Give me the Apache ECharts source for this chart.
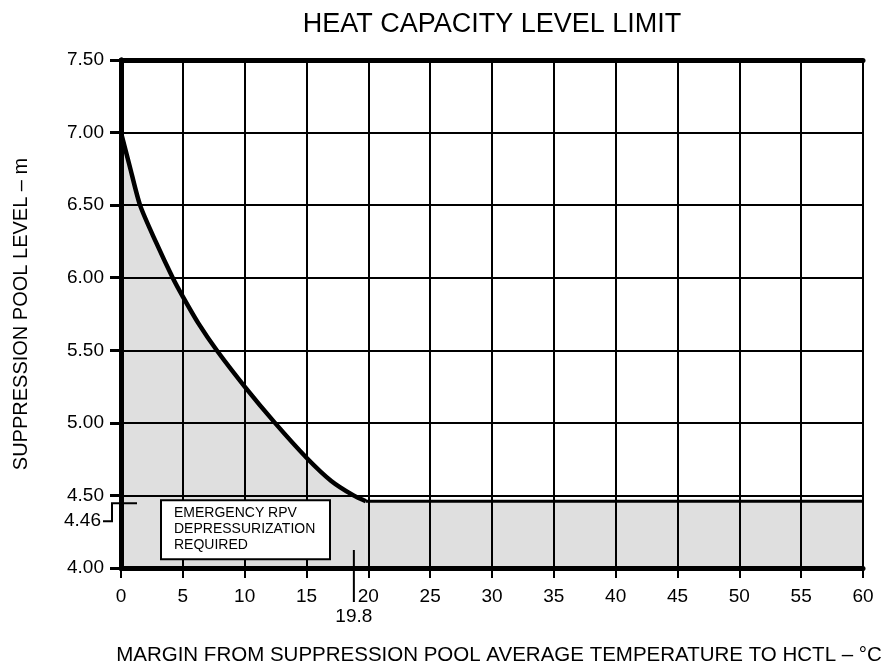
<!DOCTYPE html>
<html>
<head>
<meta charset="utf-8">
<script src="https://cdn.jsdelivr.net/npm/echarts@6/dist/echarts.min.js"></script>
<style>
  html, body { margin: 0; padding: 0; background: #fff; }
  #hctl { width: 886px; height: 671px; }
</style>
</head>
<body>
<div id="hctl"></div>
<script>
// curve: margin to HCTL (degC) vs suppression pool level (m)
const curveMargin = [0, 0.7, 1.54, 2.8, 4.18, 5, 6.3, 7.74, 10, 12.45, 15, 17, 18.8, 19.8];
const curveLevel = [7.00, 6.77, 6.50, 6.25, 6.00, 5.87, 5.68, 5.50, 5.25, 5.00, 4.76, 4.60, 4.50, 4.46];
// flat part of the limit
const flatMargin = [19.8, 60];
const flatLevel = [4.46, 4.46];
// annotations
const levelMark = 4.46;
const marginMark = 19.8;
const boxLines = ['EMERGENCY RPV', 'DEPRESSURIZATION', 'REQUIRED'];

const font = 'Liberation Sans, Arial, Helvetica, sans-serif';

function pairs(xs, ys) {
    return xs.map(function(x, i) { return [x, ys[i]]; });
}

let hctlChart = echarts.init(document.getElementById('hctl'));
let option = {
    animation: false,
    textStyle: { fontFamily: font },
    title: {
        text: 'HEAT CAPACITY LEVEL LIMIT',
        left: 487,
        textAlign: 'center',
        top: 6,
        textStyle: { fontFamily: font, fontSize: 27, fontWeight: 'normal', color: '#000' }
    },
    grid: { left: 121, right: 23, top: 60, bottom: 100 },

    // Horizontal axis
    xAxis: [{
        type: 'value',
        min: 0,
        max: 60,
        interval: 5,
        z: 3,
        name: 'MARGIN FROM SUPPRESSION POOL AVERAGE TEMPERATURE TO HCTL – °C',
        nameLocation: 'middle',
        nameGap: 77,
        nameTextStyle: { fontFamily: font, fontSize: 20.5, color: '#000', padding: [0, 0, 0, 14] },
        axisLine: { lineStyle: { color: '#000', width: 5 } },
        axisTick: { length: 10, lineStyle: { color: '#000', width: 2 } },
        axisLabel: { fontFamily: font, fontSize: 19, color: '#000', margin: 19 },
        splitLine: { lineStyle: { color: '#000', width: 2 } }
    }, {
        type: 'value',
        position: 'top',
        min: 0,
        max: 60,
        z: 6,
        axisLine: { show: true, lineStyle: { color: '#000', width: 5 } },
        axisTick: { show: false },
        axisLabel: { show: false },
        splitLine: { show: false }
    }],

    // Vertical axis
    yAxis: [{
        type: 'value',
        min: 4,
        max: 7.5,
        interval: 0.5,
        z: 3,
        name: 'SUPPRESSION POOL LEVEL – m',
        nameLocation: 'middle',
        nameGap: 90,
        nameTextStyle: { fontFamily: font, fontSize: 20, color: '#000' },
        axisLine: { show: true, lineStyle: { color: '#000', width: 5 } },
        axisTick: { show: true, length: 11, lineStyle: { color: '#000', width: 3 } },
        axisLabel: {
            fontFamily: font, fontSize: 19, color: '#000', margin: 17,
            formatter: function(v) { return v.toFixed(2); }
        },
        splitLine: { lineStyle: { color: '#000', width: 2 } }
    }, {
        type: 'value',
        position: 'right',
        min: 4,
        max: 7.5,
        z: 6,
        axisLine: { show: true, lineStyle: { color: '#000', width: 5 } },
        axisTick: { show: false },
        axisLabel: { show: false },
        splitLine: { show: false }
    }],

    series: [{
        // shaded region under the limit
        name: 'area-curve',
        type: 'line',
        z: 1,
        smooth: 0.25,
        symbol: 'none',
        lineStyle: { width: 0 },
        areaStyle: { color: '#dfdfdf', opacity: 1, origin: 'start' },
        data: pairs(curveMargin, curveLevel)
    }, {
        name: 'area-flat',
        type: 'line',
        z: 1,
        symbol: 'none',
        lineStyle: { width: 0 },
        areaStyle: { color: '#dfdfdf', opacity: 1, origin: 'start' },
        data: pairs(flatMargin, flatLevel)
    }, {
        name: 'limit-curve',
        type: 'line',
        z: 4,
        smooth: 0.25,
        symbol: 'none',
        lineStyle: { color: '#000', width: 4.5 },
        data: pairs(curveMargin, curveLevel)
    }, {
        name: 'limit-flat',
        type: 'line',
        z: 4,
        symbol: 'none',
        lineStyle: { color: '#000', width: 3 },
        data: pairs(flatMargin, flatLevel)
    }]
};
hctlChart.setOption(option);

// annotations placed from the axis scales
let p446 = hctlChart.convertToPixel({ gridIndex: 0 }, [0, levelMark]);
let p198 = hctlChart.convertToPixel({ gridIndex: 0 }, [marginMark, 4]);
let origin = hctlChart.convertToPixel({ gridIndex: 0 }, [0, 4]);

hctlChart.setOption({
    graphic: [{
        type: 'polyline',
        z: 20,
        shape: { points: [[p446[0] - 18, p446[1] + 20], [p446[0] - 9, p446[1] + 20], [p446[0] - 9, p446[1] + 2], [p446[0] + 16, p446[1] + 2]] },
        style: { stroke: '#000', lineWidth: 2, fill: null }
    }, {
        type: 'text',
        z: 20,
        x: p446[0] - 20,
        y: p446[1] + 20,
        style: { text: levelMark.toFixed(2), font: '19px ' + font, fill: '#000', align: 'right', verticalAlign: 'middle' }
    }, {
        type: 'line',
        z: 20,
        shape: { x1: p198[0] - 12, y1: p198[1] - 18, x2: p198[0] - 12, y2: p198[1] + 34 },
        style: { stroke: '#000', lineWidth: 2 }
    }, {
        type: 'text',
        z: 20,
        x: p198[0] - 12,
        y: p198[1] + 49,
        style: { text: String(marginMark), font: '19px ' + font, fill: '#000', align: 'center', verticalAlign: 'middle' }
    }, {
        type: 'rect',
        z: 20,
        shape: { x: origin[0] + 40, y: p446[1] - 1, width: 169, height: 59 },
        style: { fill: '#fff', stroke: '#000', lineWidth: 2 }
    }, {
        type: 'text',
        z: 21,
        x: origin[0] + 53,
        y: p446[1] + 4,
        style: { text: boxLines.join('\n'), font: '14px ' + font, lineHeight: 16, fill: '#000', align: 'left', verticalAlign: 'top' }
    }]
});

window.addEventListener('resize', function() {
    hctlChart.resize();
});
</script>
</body>
</html>
